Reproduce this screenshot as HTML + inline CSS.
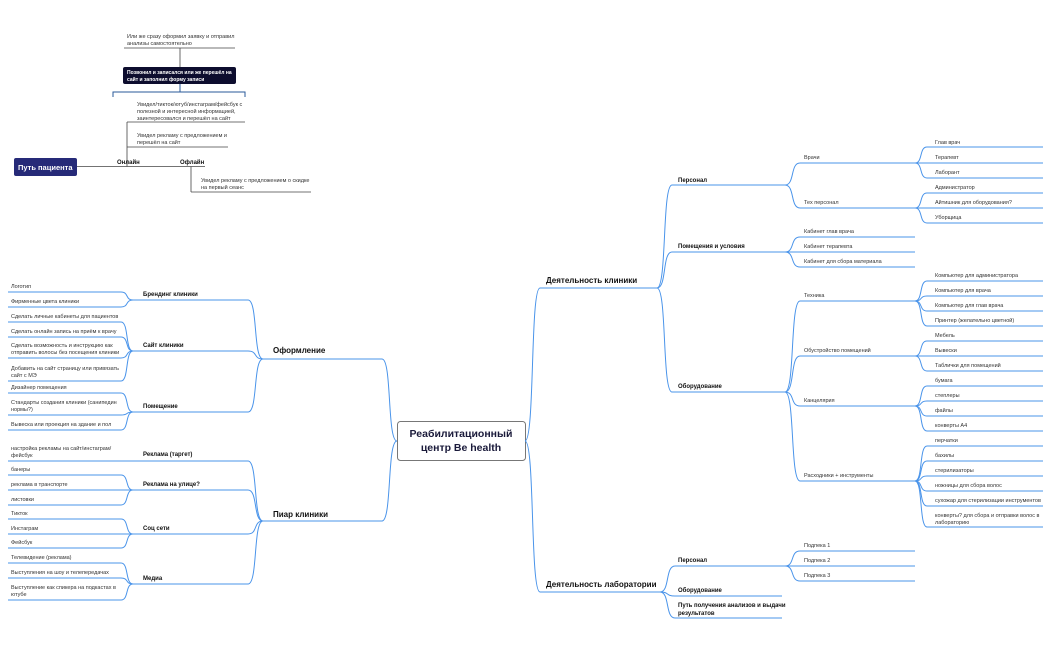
<!DOCTYPE html>
<html><head><meta charset="utf-8"><style>
html,body{margin:0;padding:0;background:#fff;width:1050px;height:650px;overflow:hidden}
svg text{font-family:"Liberation Sans",sans-serif;fill:#333;font-size:5.5px}
.b{font-weight:bold;fill:#111;font-size:6px}
.l1{font-weight:bold;fill:#111;font-size:8px}
.bl path{fill:none;stroke:#4a94ea;stroke-width:1}
.gr path,.gr line{fill:none;stroke:#444;stroke-width:0.8}
</style></head><body>
<svg width="1050" height="650" viewBox="0 0 1050 650" xmlns="http://www.w3.org/2000/svg">
<g class="gr">
<line x1="77" y1="166.5" x2="205" y2="166.5"/>
<line x1="127" y1="122" x2="127" y2="166.5"/>
<line x1="127" y1="122" x2="245" y2="122"/>
<line x1="127" y1="147" x2="228" y2="147"/>
<line x1="191" y1="166.5" x2="191" y2="192"/>
<line x1="191" y1="192" x2="311" y2="192"/>
<line x1="124" y1="48" x2="235" y2="48"/>
<line x1="180" y1="48" x2="180" y2="67"/>
</g>
<path d="M113 97 V92 H245 V97 M180 84 V92" fill="none" stroke="#2a5a9a" stroke-width="1"/>
<rect x="123" y="67" width="113" height="17" rx="2" fill="#0d0d2e"/>
<text x="127" y="74" style="fill:#fff;font-size:5px;font-weight:bold">Позвонил и записался или же перешёл на</text>
<text x="127" y="81" style="fill:#fff;font-size:5px;font-weight:bold">сайт и заполнил форму записи</text>
<text x="127" y="38">Или же сразу оформил заявку и отправил</text>
<text x="127" y="45">анализы самостоятельно</text>
<text x="137" y="106">Увидел/тикток/ютуб/инстаграм/фейсбук с</text>
<text x="137" y="113">полезной и интересной  информацией,</text>
<text x="137" y="120">заинтересовался и перешёл на сайт</text>
<text x="137" y="137">Увидел рекламу с предложением и</text>
<text x="137" y="144">перешёл на сайт</text>
<text x="201" y="182">Увидел рекламу с предложением о скидке</text>
<text x="201" y="189">на первый сеанс</text>
<text x="117" y="164" class="b">Онлайн</text>
<text x="180" y="164" class="b">Офлайн</text>
<rect x="14" y="158" width="63" height="18" rx="2" fill="#262a78"/>
<text x="18" y="170" style="fill:#fff;font-size:7.5px;font-weight:bold">Путь пациента</text>

<rect x="397.5" y="421.5" width="128" height="39" rx="3" fill="#fff" stroke="#777" stroke-width="1"/>
<text x="461" y="437" text-anchor="middle" style="font-size:10.5px;font-weight:bold;fill:#1a1a3a">Реабилитационный</text>
<text x="461" y="451" text-anchor="middle" style="font-size:10.5px;font-weight:bold;fill:#1a1a3a">центр Be health</text>

<g class="bl">
<path d="M525 441 C535 441,530 288,540 288 H657"/>
<path d="M525 441 C535 441,530 592,540 592 H660"/>
<path d="M657 288 C667 288,662 185,672 185 H785"/>
<path d="M657 288 C667 288,662 252,672 252 H785"/>
<path d="M657 288 C667 288,662 392,672 392 H785"/>
<path d="M660 592 C670 592,665 566,675 566 H785"/>
<path d="M660 592 C670 592,665 596,675 596 H782"/>
<path d="M660 592 C670 592,665 618,675 618 H782"/>
<path d="M785 185 C795 185,790 163,800 163 H915"/>
<path d="M785 185 C795 185,790 208,800 208 H915"/>
<path d="M785 252 C795 252,790 237,800 237 H915"/>
<path d="M785 252 H915"/>
<path d="M785 252 C795 252,790 267,800 267 H915"/>
<path d="M785 392 C795 392,790 301,800 301 H915"/>
<path d="M785 392 C795 392,790 356,800 356 H915"/>
<path d="M785 392 C795 392,790 406,800 406 H915"/>
<path d="M785 392 C795 392,790 481,800 481 H915"/>
<path d="M785 566 C795 566,790 551,800 551 H915"/>
<path d="M785 566 H915"/>
<path d="M785 566 C795 566,790 581,800 581 H915"/>
<path d="M915 163 C923 163,919 147,927 147 H1043"/>
<path d="M915 163 H1043"/>
<path d="M915 163 C923 163,919 178,927 178 H1043"/>
<path d="M915 208 C923 208,919 193,927 193 H1043"/>
<path d="M915 208 H1043"/>
<path d="M915 208 C923 208,919 223,927 223 H1043"/>
<path d="M915 301 C923 301,919 281,927 281 H1043"/>
<path d="M915 301 C923 301,919 296,927 296 H1043"/>
<path d="M915 301 C923 301,919 311,927 311 H1043"/>
<path d="M915 301 C923 301,919 326,927 326 H1043"/>
<path d="M915 356 C923 356,919 341,927 341 H1043"/>
<path d="M915 356 H1043"/>
<path d="M915 356 C923 356,919 371,927 371 H1043"/>
<path d="M915 406 C923 406,919 386,927 386 H1043"/>
<path d="M915 406 C923 406,919 401,927 401 H1043"/>
<path d="M915 406 C923 406,919 416,927 416 H1043"/>
<path d="M915 406 C923 406,919 431,927 431 H1043"/>
<path d="M915 481 C923 481,919 446,927 446 H1043"/>
<path d="M915 481 C923 481,919 461,927 461 H1043"/>
<path d="M915 481 C923 481,919 476,927 476 H1043"/>
<path d="M915 481 C923 481,919 491,927 491 H1043"/>
<path d="M915 481 C923 481,919 506,927 506 H1043"/>
<path d="M915 481 C923 481,919 527,927 527 H1043"/>
<path d="M397 441 C387 441,392 359,382 359 H263"/>
<path d="M397 441 C387 441,392 521,382 521 H263"/>
<path d="M263 359 C253 359,258 300,248 300 H133"/>
<path d="M263 359 C253 359,258 351,248 351 H133"/>
<path d="M263 359 C253 359,258 412,248 412 H133"/>
<path d="M263 521 C253 521,258 461,248 461 H8"/>
<path d="M263 521 C253 521,258 490,248 490 H133"/>
<path d="M263 521 C253 521,258 534,248 534 H133"/>
<path d="M263 521 C253 521,258 584,248 584 H133"/>
<path d="M133 300 C125 300,129 292,121 292 H8"/>
<path d="M133 300 C125 300,129 307,121 307 H8"/>
<path d="M133 351 C125 351,129 322,121 322 H8"/>
<path d="M133 351 C125 351,129 337,121 337 H8"/>
<path d="M133 351 C125 351,129 358,121 358 H8"/>
<path d="M133 351 C125 351,129 381,121 381 H8"/>
<path d="M133 412 C125 412,129 393,121 393 H8"/>
<path d="M133 412 C125 412,129 415,121 415 H8"/>
<path d="M133 412 C125 412,129 430,121 430 H8"/>
<path d="M133 490 C125 490,129 475,121 475 H8"/>
<path d="M133 490 H8"/>
<path d="M133 490 C125 490,129 505,121 505 H8"/>
<path d="M133 534 C125 534,129 519,121 519 H8"/>
<path d="M133 534 H8"/>
<path d="M133 534 C125 534,129 548,121 548 H8"/>
<path d="M133 584 C125 584,129 563,121 563 H8"/>
<path d="M133 584 C125 584,129 578,121 578 H8"/>
<path d="M133 584 C125 584,129 600,121 600 H8"/>
</g>

<text x="546" y="283" class="l1">Деятельность клиники</text>
<text x="546" y="587" class="l1">Деятельность лаборатории</text>
<text x="678" y="182" class="b">Персонал</text>
<text x="678" y="248" class="b">Помещения и условия</text>
<text x="678" y="388" class="b">Оборудование</text>
<text x="678" y="562" class="b">Персонал</text>
<text x="678" y="592" class="b">Оборудование</text>
<text x="678" y="607" class="b">Путь получения анализов и выдачи</text>
<text x="678" y="615" class="b">результатов</text>
<text x="804" y="159">Врачи</text>
<text x="804" y="204">Тех персонал</text>
<text x="804" y="233">Кабинет глав врача</text>
<text x="804" y="248">Кабинет терапевта</text>
<text x="804" y="263">Кабинет для сбора материала</text>
<text x="804" y="297">Техника</text>
<text x="804" y="352">Обустройство помещений</text>
<text x="804" y="402">Канцелярия</text>
<text x="804" y="477">Расходники + инструменты</text>
<text x="804" y="547">Подпека 1</text>
<text x="804" y="562">Подпека 2</text>
<text x="804" y="577">Подпека 3</text>
<text x="935" y="144">Глав врач</text>
<text x="935" y="159">Терапевт</text>
<text x="935" y="174">Лаборант</text>
<text x="935" y="189">Администратор</text>
<text x="935" y="204">Айтишник для оборудования?</text>
<text x="935" y="219">Уборщица</text>
<text x="935" y="277">Компьютер для администратора</text>
<text x="935" y="292">Компьютер для врача</text>
<text x="935" y="307">Компьютер для глав врача</text>
<text x="935" y="322">Принтер (желательно цветной)</text>
<text x="935" y="337">Мебель</text>
<text x="935" y="352">Вывески</text>
<text x="935" y="367">Таблички для помещений</text>
<text x="935" y="382">бумага</text>
<text x="935" y="397">степлеры</text>
<text x="935" y="412">файлы</text>
<text x="935" y="427">конверты А4</text>
<text x="935" y="442">перчатки</text>
<text x="935" y="457">бахилы</text>
<text x="935" y="472">стерилизаторы</text>
<text x="935" y="487">ножницы для сбора волос</text>
<text x="935" y="502">сухожар для стерилизации инструментов</text>
<text x="935" y="517">конверты? для сбора и отправки волос в</text>
<text x="935" y="524">лабораторию</text>

<text x="273" y="353" class="l1">Оформление</text>
<text x="273" y="517" class="l1">Пиар клиники</text>
<text x="143" y="296" class="b">Брендинг клиники</text>
<text x="143" y="347" class="b">Сайт клиники</text>
<text x="143" y="408" class="b">Помещение</text>
<text x="143" y="456" class="b">Реклама (таргет)</text>
<text x="143" y="486" class="b">Реклама на улице?</text>
<text x="143" y="530" class="b">Соц сети</text>
<text x="143" y="580" class="b">Медиа</text>
<text x="11" y="288">Логотип</text>
<text x="11" y="303">Фирменные цвета клиники</text>
<text x="11" y="318">Сделать личные кабинеты для пациентов</text>
<text x="11" y="333">Сделать онлайн запись на приём к врачу</text>
<text x="11" y="347">Сделать возможность и инструкцию как</text>
<text x="11" y="354">отправить волосы без посещения клиники</text>
<text x="11" y="370">Добавить на сайт страницу или привязать</text>
<text x="11" y="377">сайт с МЭ</text>
<text x="11" y="389">Дизайнер помещения</text>
<text x="11" y="404">Стандарты создания клиники (санипедин</text>
<text x="11" y="411">нормы?)</text>
<text x="11" y="426">Вывеска или проекция на здание и пол</text>
<text x="11" y="450">настройка рекламы на сайт/инстаграм/</text>
<text x="11" y="457">фейсбук</text>
<text x="11" y="471">банеры</text>
<text x="11" y="486">реклама в транспорте</text>
<text x="11" y="501">листовки</text>
<text x="11" y="515">Тикток</text>
<text x="11" y="530">Инстаграм</text>
<text x="11" y="544">Фейсбук</text>
<text x="11" y="559">Телевидение (реклама)</text>
<text x="11" y="574">Выступления на шоу и телепередачах</text>
<text x="11" y="589">Выступление как спикера на подкастах в</text>
<text x="11" y="596">ютубе</text>
</svg>
</body></html>
